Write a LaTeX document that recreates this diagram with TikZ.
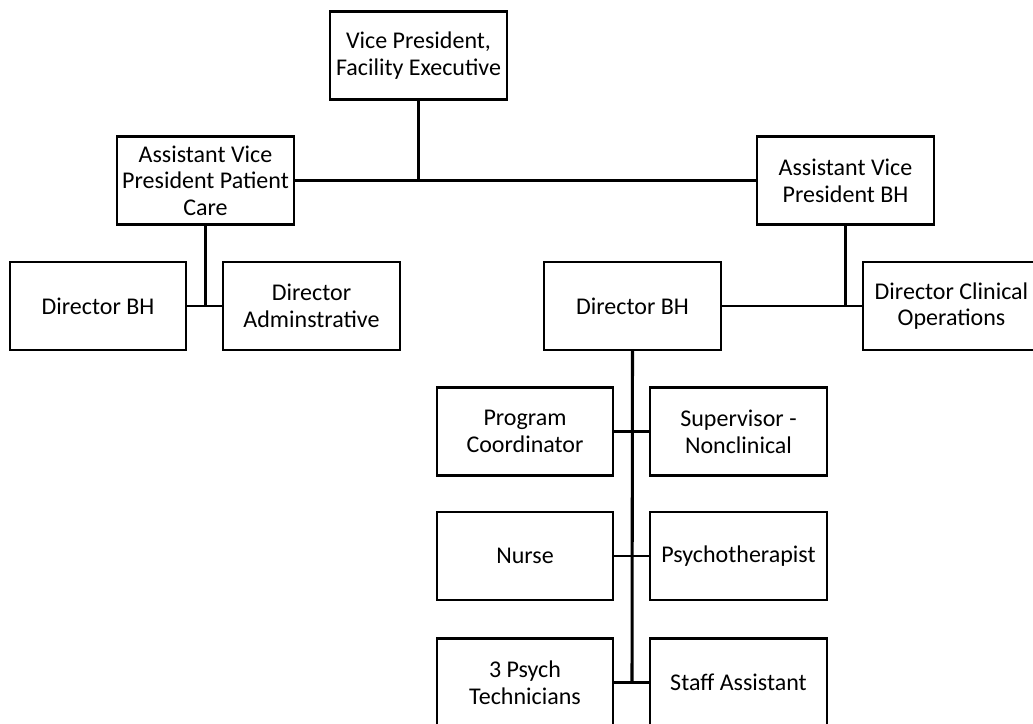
\documentclass[tikz,border=0pt]{standalone}
\usepackage{fontspec}
\setmainfont{Carlito}
\begin{document}
\begin{tikzpicture}[x=0.75pt,y=-0.75pt,
  box/.style={draw=black,line width=1.6pt,fill=white,rectangle,minimum width=132.5pt,minimum height=66pt,inner sep=2pt,align=center,font=\fontsize{18}{20}\selectfont},
  conn/.style={draw=black,line width=1.6pt},
  trunk/.style={draw=black,line width=2.3pt}]
\useasboundingbox (0,0) rectangle (1033,724);
\clip (0,0) rectangle (1033,724);
\coordinate (j0) at (418.5,180.5);
\coordinate (j1) at (205.5,306);
\coordinate (j2) at (845.5,305);
\coordinate (j3) at (632,682.5);
\node[box] (vp) at (418.5,55.5) {Vice President,\\Facility Executive};
\node[box] (avp1) at (205.5,180.5) {Assistant Vice\\President Patient\\Care};
\node[box] (avp2) at (845.5,180.5) {Assistant Vice\\President BH};
\node[box] (dbh1) at (98,306) {Director BH};
\node[box] (dadm) at (311.5,306) {Director\\Adminstrative};
\node[box] (dbh2) at (632.5,306) {Director BH};
\node[box] (dco) at (951.5,306) {Director Clinical\\Operations};
\node[box] (pc) at (525,431.5) {Program\\Coordinator};
\node[box] (sup) at (738.5,431.5) {Supervisor -\\Nonclinical};
\node[box] (nurse) at (525,556) {Nurse};
\node[box] (psy) at (738.5,556) {Psychotherapist};
\node[box] (tech) at (525,682.5) {3 Psych\\Technicians};
\node[box] (staff) at (738.5,682.5) {Staff Assistant};
\draw[conn] (vp.south) -- (j0);
\draw[conn] (avp1.east) -- (avp2.west);
\draw[conn] (avp1.south) -- (j1);
\draw[conn] (dbh1.east) -- (dadm.west);
\draw[conn] (avp2.south) -- (j2);
\draw[conn] (dbh2.east) -- (dco.west);
\draw[trunk] (dbh2.south) -- (j3);
\draw[conn] (pc.east) -- (sup.west);
\draw[conn] (nurse.east) -- (psy.west);
\draw[conn] (tech.east) -- (staff.west);
\end{tikzpicture}
\end{document}
